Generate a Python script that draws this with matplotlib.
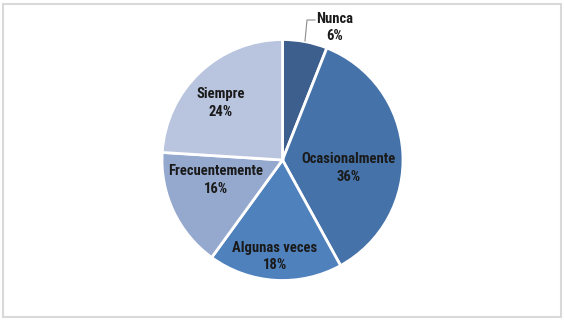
import matplotlib
matplotlib.use("Agg")
import matplotlib.pyplot as plt
from matplotlib import font_manager as fm

categories = ["Nunca", "Ocasionalmente", "Algunas veces", "Frecuentemente", "Siempre"]
values = [6, 36, 18, 16, 24]
colors = ["#3D5F8E", "#4572A8", "#4F81BD", "#95A9CF", "#B9C5DE"]

# choose a narrow bold font (Arial Narrow look-alike) if available
bold_names = {f.name for f in fm.fontManager.ttflist if f.weight in (600, 700, "bold")}
all_names = {f.name for f in fm.fontManager.ttflist}
prefs = ["Liberation Sans Narrow", "Arial Narrow", "Roboto Condensed",
         "Archivo Narrow", "Open Sans Condensed", "PT Sans Narrow",
         "Barlow Semi Condensed"]
chosen = None
for p in prefs:
    if p in bold_names or p in all_names:
        chosen = p
        break
font_kw = dict(fontweight="bold", fontsize=10.5)
if chosen:
    font_kw["family"] = [chosen, "DejaVu Sans"]
else:
    font_kw["family"] = ["DejaVu Sans"]
    font_kw["fontstretch"] = "condensed"
    font_kw["fontsize"] = 9.5

W, H = 564, 326
fig = plt.figure(figsize=(W/100, H/100), dpi=100)
fig.patch.set_facecolor("white")

# outer border
fig.add_artist(plt.Rectangle((2.5/W, 1-316.5/H), (561-2.5)/W, (316.5-3.5)/H,
                             transform=fig.transFigure, fill=False,
                             edgecolor="#D9D9D9", linewidth=1.5))

cx, cy, r = 282.5, 160, 120.5
ax = fig.add_axes([(cx-r)/W, 1-(cy+r)/H, 2*r/W, 2*r/H])
wedges, _ = ax.pie(values, colors=colors, startangle=90, counterclock=False,
                   wedgeprops=dict(edgecolor="white", linewidth=2), radius=1)
ax.set_xlim(-1, 1); ax.set_ylim(-1, 1)
ax.set_aspect("equal")
ax.axis("off")

def fig_xy(px, py):
    return px/W, 1-py/H

label_pos = {
    "Nunca": (335, 27.5),
    "Ocasionalmente": (349, 168),
    "Algunas veces": (274.5, 256.5),
    "Frecuentemente": (216, 180),
    "Siempre": (221, 103),
}
for cat, val in zip(categories, values):
    x, y = fig_xy(*label_pos[cat])
    fig.text(x, y, f"{cat}\n{val}%", ha="center", va="center",
             color="#1A1A1A", linespacing=1.3, **font_kw)
    if cat == "Nunca":
        xs = [305/W, 307/W, 315/W]
        ys = [1-41/H, 1-20/H, 1-20/H]
        fig.add_artist(plt.Line2D(xs, ys, transform=fig.transFigure,
                                  color="#8C8C8C", linewidth=0.8))

fig.savefig("out.png", dpi=100, facecolor="white")
